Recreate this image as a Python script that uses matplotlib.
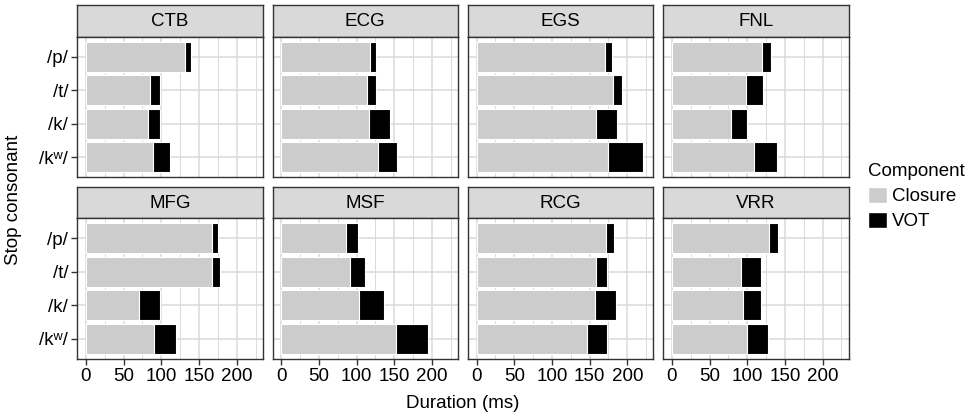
import numpy as np
import matplotlib.pyplot as plt
from matplotlib.patches import Patch

plt.rcParams['font.family'] = ['Liberation Sans', 'DejaVu Sans']

# speakers (panel order) and stop consonants (top to bottom)
speakers = ['CTB', 'ECG', 'EGS', 'FNL', 'MFG', 'MSF', 'RCG', 'VRR']
consonants = ['/p/', '/t/', '/k/', '/kʷ/']

# closure duration (ms), one row per speaker, columns follow consonants
closure = [
    [131, 85, 82, 89],
    [118, 114, 117, 129],
    [170, 181, 159, 174],
    [120, 99, 79, 109],
    [167, 167, 71, 90],
    [86, 91, 103, 152],
    [172, 158, 157, 147],
    [129, 92, 94, 100],
]
# VOT (ms)
vot = [
    [9, 13, 16, 23],
    [8, 12, 27, 24],
    [10, 12, 27, 47],
    [11, 22, 21, 31],
    [8, 11, 27, 30],
    [16, 20, 33, 43],
    [11, 15, 28, 26],
    [12, 26, 24, 28],
]

W, H = 971, 416
fig = plt.figure(figsize=(W / 100, H / 100), dpi=100)

def fbox(x0, y0, x1, y1):
    # pixel box (top-left origin) -> figure fraction
    return [x0 / W, 1 - y1 / H, (x1 - x0) / W, (y1 - y0) / H]

col_left = 77.3
col_w = 185.4
col_step = 195.3
rows = [(5.3, 36.7, 177.3), (187.3, 218.3, 359.0)]

border = '#333333'
grid_c = '#DADADA'
fs = 13.5

for i, spk in enumerate(speakers):
    r, c = divmod(i, 4)
    x0 = col_left + c * col_step
    x1 = x0 + col_w
    st, pt, pb = rows[r]

    # strip
    sax = fig.add_axes(fbox(x0, st, x1, pt))
    sax.set_facecolor('#D9D9D9')
    sax.set_xticks([])
    sax.set_yticks([])
    for s in sax.spines.values():
        s.set_color(border)
        s.set_linewidth(1.0)
    sax.text(0.5, 0.47, spk, ha='center', va='center', fontsize=fs, transform=sax.transAxes)

    ax = fig.add_axes(fbox(x0, pt, x1, pb))
    y = np.arange(len(consonants))
    ax.barh(y, closure[i], height=0.9, color='#CCCCCC', edgecolor='white', linewidth=0.8, zorder=3)
    ax.barh(y, vot[i], left=closure[i], height=0.9, color='black', edgecolor='white', linewidth=0.8, zorder=3)

    ax.set_xlim(-11.5, 234.5)
    ax.set_ylim(3.6, -0.6)
    ax.set_xticks([0, 50, 100, 150, 200])
    ax.set_xticks([25, 75, 125, 175, 225], minor=True)
    ax.set_yticks(y)
    ax.grid(True, which='major', color=grid_c, linewidth=1.1, zorder=0)
    ax.grid(True, which='minor', axis='x', color=grid_c, linewidth=0.7, zorder=0)
    ax.set_axisbelow(True)
    for s in ax.spines.values():
        s.set_color(border)
        s.set_linewidth(1.0)
    ax.tick_params(which='major', length=4, width=1, color=border, labelsize=fs, pad=2.5)
    ax.tick_params(which='minor', length=0)
    if c == 0:
        ax.set_yticklabels(consonants)
    else:
        ax.tick_params(axis='y', length=0, labelleft=False)
    if r == 0:
        ax.tick_params(axis='x', length=0, labelbottom=False)

fig.text(14 / W, 1 - 200 / H, 'Stop consonant', rotation=90, ha='center', va='center', fontsize=fs)
fig.text(463 / W, 1 - 404 / H, 'Duration (ms)', ha='center', va='center', fontsize=fs)

handles = [Patch(facecolor='#CCCCCC', edgecolor='white'), Patch(facecolor='black', edgecolor='white')]
leg = fig.legend(handles, ['Closure', 'VOT'], title='Component', loc='upper left',
                 bbox_to_anchor=(868 / W, 1 - 163 / H), frameon=False, fontsize=fs,
                 title_fontsize=fs, handlelength=1.0, handleheight=0.95, handletextpad=0.3,
                 labelspacing=0.35, borderpad=0, borderaxespad=0, alignment='left')

fig.savefig('out.png', dpi=100)
